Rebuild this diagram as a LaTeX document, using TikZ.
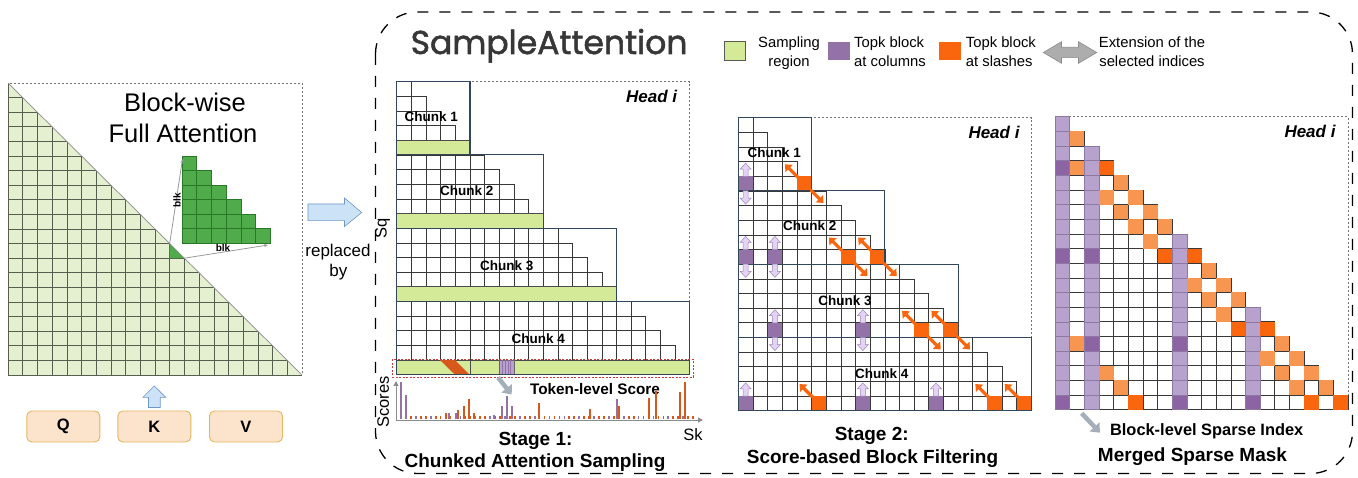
\documentclass[tikz,border=0pt]{standalone}
\usepackage{fontspec}
\setmainfont{Liberation Sans}
\newfontfamily\titlefont[FakeBold=1.6]{Poppins}
\usetikzlibrary{arrows.meta}

\definecolor{sampgreen}{RGB}{212,234,152}
\definecolor{fullgreen}{RGB}{228,240,208}
\definecolor{fullgridc}{RGB}{85,95,80}
\definecolor{blkgreen}{RGB}{80,172,74}
\definecolor{blkgreendraw}{RGB}{40,120,40}
\definecolor{colpurple}{RGB}{147,114,168}
\definecolor{lightpurple}{RGB}{182,162,204}
\definecolor{lightpurpledraw}{RGB}{140,120,160}
\definecolor{darkpurple}{RGB}{140,100,164}
\definecolor{slashorange}{RGB}{250,102,14}
\definecolor{stripeorange}{RGB}{215,88,28}
\definecolor{lightorange}{RGB}{246,150,80}
\definecolor{chunkblue}{RGB}{50,70,92}
\definecolor{qkvfill}{RGB}{252,228,204}
\definecolor{qkvdraw}{RGB}{228,182,96}
\definecolor{arrowblue}{RGB}{204,226,246}
\definecolor{arrowbluedraw}{RGB}{110,150,200}
\definecolor{titlegray}{RGB}{55,55,55}
\definecolor{upfill}{RGB}{226,212,242}
\definecolor{updraw}{RGB}{160,130,190}
\definecolor{fatgray}{RGB}{165,175,185}
\definecolor{axisgray}{RGB}{140,140,140}
\definecolor{tokred}{RGB}{200,60,60}

\begin{document}
\begin{tikzpicture}[x=1pt,y=-1pt,
  cell/.style={fill=white, draw=black!78, line width=0.6pt},
  sampbar/.style={fill=sampgreen, draw=black!70, line width=0.7pt},
  chunkbox/.style={draw=chunkblue, line width=1.1pt},
  headbox/.style={draw=black!55, line width=0.6pt, dash pattern=on 2pt off 2pt},
  fullgrid/.style={draw=fullgridc, line width=0.6pt},
  chunklbl/.style={font=\fontsize{13.5}{15}\selectfont\bfseries, anchor=base, inner sep=0pt},
  headlbl/.style={font=\fontsize{17}{20}\selectfont\bfseries\itshape, anchor=base, inner sep=0pt},
  stagelbl/.style={font=\fontsize{19}{22}\selectfont\bfseries, anchor=base, inner sep=0pt},
  legendlbl/.style={font=\fontsize{14.8}{20}\selectfont, anchor=base, inner sep=0pt},
  plainlbl/.style={font=\fontsize{16.5}{20}\selectfont, anchor=base, inner sep=0pt},
  qkv/.style={fill=qkvfill, draw=qkvdraw, line width=0.9pt, rounded corners=5pt,
    minimum width=73pt, minimum height=31pt, inner sep=0pt, font=\fontsize{16.5}{18}\selectfont\bfseries},
  oarrow/.style={draw=slashorange, line width=3.2pt, -{Triangle[length=6pt,width=10pt]}},
  parrow/.style={fill=upfill, draw=updraw, line width=0.5pt},
  fatarrow/.style={draw=fatgray, line width=4.5pt, -{Triangle[length=8pt,width=13pt]}},
  thinarrow/.style={draw=black!40, line width=0.8pt, -{Stealth[length=4pt,width=3pt]}},
  bar/.style={draw=#1, line width=1.7pt},
]
\useasboundingbox (0,0) rectangle (1358,478);
\fill[white] (0,0) rectangle (1358,478);

\def\sz{14.65}

% ================= Left panel =================
\begin{scope}
  \clip (8,83) -- (8,375) -- (302,375) -- cycle;
  \fill[fullgreen] (8,83) rectangle (302,375);
  \foreach \i in {1,...,19}{
    \draw[fullgrid] ({8+\i*14.7},83) -- ({8+\i*14.7},375);
    \draw[fullgrid] (8,{83+\i*14.6}) -- (302,{83+\i*14.6});
  }
  \fill[blkgreen] ({8+11*14.7},{83+11*14.6}) -- ({8+11*14.7},{83+12*14.6}) -- ({8+12*14.7},{83+12*14.6}) -- cycle;
\end{scope}
\draw[headbox] (8,83) rectangle (302,375);
\draw[fullgrid] (8,83) -- (8,375) -- (302,375);
\draw[draw=black!45, line width=0.7pt] (8,83) -- (302,375);
\coordinate (smallA) at ({8+11*14.7},{83+11*14.6});
\coordinate (smallB) at ({8+12*14.7},{83+12*14.6});

% zoomed staircase
\foreach \i in {0,...,5}{
  \foreach \j in {0,...,\i}{
    \draw[fill=blkgreen, draw=blkgreendraw, line width=0.6pt] ({182+\j*14.7},{156+\i*14.55}) rectangle ++(14.7,14.55);
  }
}
\coordinate (stairTop) at (182.5,159);
\coordinate (stairRight) at (268,245);
\draw[thinarrow] (smallA) -- (stairTop);
\draw[thinarrow] (smallB) -- (stairRight);
\node[font=\fontsize{10}{10}\selectfont\bfseries, rotate=90, inner sep=0pt] (blkv) at (177,200) {blk};
\node[font=\fontsize{10}{10}\selectfont\bfseries, inner sep=0pt] (blkh) at (223,248) {blk};

\node[font=\fontsize{25.5}{30}\selectfont, anchor=base, inner sep=0pt] (bw1) at (185,111.7) {Block-wise};
\node[font=\fontsize{25.5}{30}\selectfont, anchor=base, inner sep=0pt] (bw2) at (183,142.7) {Full Attention};

% QKV
\node[qkv] (q) at (63.3,426.5) {Q};
\node[qkv] (k) at (154.3,426.5) {K};
\node[qkv] (v) at (246,426.5) {V};
\draw[fill=arrowblue, draw=arrowbluedraw, line width=0.6pt]
  (154.3,386) -- (165.7,397.3) -- (160.2,397.3) -- (160.2,407.5) -- (148.5,407.5) -- (148.5,397.3) -- (143,397.3) -- cycle;

% replaced by
\draw[fill=arrowblue, draw=arrowbluedraw, line width=0.6pt]
  (308,204) -- (344.5,204) -- (344.5,198) -- (361.7,212.5) -- (344.5,226.5) -- (344.5,220.7) -- (308,220.7) -- cycle;
\node[font=\fontsize{17}{20}\selectfont, anchor=base, inner sep=0pt] (rep1) at (338,256.7) {replaced};
\node[font=\fontsize{17}{20}\selectfont, anchor=base, inner sep=0pt] (rep2) at (338.3,276.5) {by};

% ================= big dashed frame =================
\draw[black, line width=1.3pt, dash pattern=on 11pt off 11pt, rounded corners=42pt] (375.5,12) rectangle (1352.5,473.5);

\node[font=\titlefont\fontsize{33}{38}\selectfont, text=titlegray, anchor=base west, inner sep=0pt] (title) at (410.5,54) {SampleAttention};

% ================= Legend =================
\draw[fill=sampgreen, draw=black!65, line width=0.7pt] (724,41.7) rectangle (745.7,60);
\fill[colpurple] (827.7,41.7) rectangle (850,60);
\fill[slashorange] (939,41.7) rectangle (961,60);
\draw[fill=black!32, draw=black!45, line width=0.6pt]
  (1043.3,52.5) -- (1061.5,41.7) -- (1061.5,47.3) -- (1078.5,47.3) -- (1078.5,41.7) -- (1096.7,52.5)
  -- (1078.5,63.3) -- (1078.5,57.7) -- (1061.5,57.7) -- (1061.5,63.3) -- cycle;
\node[legendlbl] (lg1a) at (789,48) {Sampling};
\node[legendlbl] (lg1b) at (789,67) {region};
\node[legendlbl, anchor=base west] (lg2a) at (854,48) {Topk block};
\node[legendlbl, anchor=base west] (lg2b) at (854,67) {at columns};
\node[legendlbl, anchor=base west] (lg3a) at (965.7,48) {Topk block};
\node[legendlbl, anchor=base west] (lg3b) at (965.7,67) {at slashes};
\node[legendlbl] (lg4a) at (1152,48) {Extension of the};
\node[legendlbl] (lg4b) at (1152,67) {selected indices};

% ================= Stage 1 =================
\def\Xa{396.7}\def\Ya{81.7}
\draw[headbox] (\Xa,\Ya) rectangle ({\Xa+20*\sz},{\Ya+15*\sz});
\foreach \r in {0,...,19}{
  \pgfmathtruncatemacro\m{mod(\r,5)}
  \ifnum\m=4\relax
    \draw[sampbar] (\Xa,{\Ya+\r*\sz}) rectangle ({\Xa+(\r+1)*\sz},{\Ya+(\r+1)*\sz});
  \else
    \foreach \c in {0,...,\r}{\draw[cell] ({\Xa+\c*\sz},{\Ya+\r*\sz}) rectangle ++(\sz,\sz);}
  \fi
}
% token-level details on last sampling bar
\draw[black!70, line width=0.7pt] ({\Xa+5*\sz},{\Ya+19*\sz}) -- ({\Xa+5*\sz},{\Ya+20*\sz});
\fill[stripeorange] (440,{\Ya+19*\sz}) -- (455,{\Ya+19*\sz}) -- (469.5,{\Ya+20*\sz}) -- (455,{\Ya+20*\sz}) -- cycle;
\draw[fill=lightpurple, draw=black!60, line width=0.6pt] ({\Xa+7*\sz},{\Ya+19*\sz}) rectangle ++(\sz,\sz);
\foreach \i in {1,...,4}{\draw[colpurple, line width=0.8pt] ({\Xa+7*\sz+\i*2.9},{\Ya+19*\sz}) -- ++(0,\sz);}
\foreach \k in {0,...,3}{
  \draw[chunkbox] (\Xa,{\Ya+5*\k*\sz}) rectangle ({\Xa+(5*\k+5)*\sz},{\Ya+(5*\k+5)*\sz});
}
\draw[tokred, line width=0.6pt, dash pattern=on 2pt off 1.5pt] (392.3,359.5) rectangle (693.5,377);
\node[chunklbl] (c1a) at (431.2,121.7) {Chunk 1};
\node[chunklbl] (c2a) at (466.7,195.7) {Chunk 2};
\node[chunklbl] (c3a) at (506.7,270.7) {Chunk 3};
\node[chunklbl] (c4a) at (538.3,343.3) {Chunk 4};
\node[headlbl] (h1) at (651.7,102.7) {Head i};
\node[plainlbl, rotate=90, anchor=center] (sq) at (382.5,228) {Sq};

\coordinate (tokA) at (498,377.5);
\coordinate (tokB) at (511.7,394.5);
\draw[fatarrow] (tokA) -- (tokB);
\node[font=\fontsize{15.3}{18}\selectfont\bfseries, anchor=base, inner sep=0pt] (tok) at (595,394.3) {Token-level Score};

% score chart
\coordinate (orig) at (396,420);
\coordinate (xend) at (703,420);
\coordinate (yend) at (396,381);
\foreach \i in {0,...,59}{
  \pgfmathtruncatemacro\mm{mod(\i,3)}
  \ifnum\mm=0\relax
    \draw[bar=colpurple] ({401+\i*4.95},419.3) -- ++(0,-3);
  \else
    \draw[bar=stripeorange] ({401+\i*4.95},419.3) -- ++(0,-3);
  \fi
}
\foreach \x/\t/\col in {400.7/381.7/colpurple, 405.7/395/colpurple, 445.7/413.3/stripeorange,
  449/413.3/colpurple, 455.7/413.3/colpurple, 458.3/410/stripeorange, 463.7/406/stripeorange,
  469/399.3/stripeorange, 474/413.3/stripeorange, 494.3/415/colpurple, 501.7/406/colpurple,
  506.7/396/colpurple, 512.3/406/colpurple, 539.3/403.3/stripeorange, 590/409.3/stripeorange,
  617.3/399.3/colpurple, 619.3/406/stripeorange, 648.7/398.3/stripeorange, 656.3/391/stripeorange,
  680/391.7/stripeorange, 685/381.7/stripeorange}{
  \draw[bar=\col] (\x,419.3) -- (\x,\t);
}
\draw[axisgray, line width=1pt, -{Triangle[length=5pt,width=5pt]}] (orig) -- (xend);
\draw[axisgray, line width=1pt, -{Triangle[length=5pt,width=5pt]}] (orig) -- (yend);
\node[plainlbl, rotate=90, anchor=center] (scores) at (383.3,402) {Scores};
\node[plainlbl] (sk) at (693,440) {Sk};
\node[stagelbl] (s1a) at (535.5,445) {Stage 1:};
\node[stagelbl] (s1b) at (535,467.3) {Chunked Attention Sampling};

% ================= Stage 2 =================
\def\Xb{738.3}\def\Yb{117.7}
\draw[headbox] (\Xb,\Yb) rectangle ({\Xb+20*\sz},{\Yb+15*\sz});
\foreach \r in {0,...,19}{
  \foreach \c in {0,...,\r}{\draw[cell] ({\Xb+\c*\sz},{\Yb+\r*\sz}) rectangle ++(\sz,\sz);}
}
\foreach \r/\c in {4/0,9/0,9/2,14/2,14/8,19/0,19/8,19/13}{
  \fill[colpurple] ({\Xb+\c*\sz},{\Yb+\r*\sz}) rectangle ++(\sz,\sz);
}
\foreach \r/\c in {4/4,9/7,9/9,14/12,14/14,19/5,19/17,19/19}{
  \fill[slashorange] ({\Xb+\c*\sz},{\Yb+\r*\sz}) rectangle ++(\sz,\sz);
}
\foreach \k in {0,...,3}{
  \draw[chunkbox] (\Xb,{\Yb+5*\k*\sz}) rectangle ({\Xb+(5*\k+5)*\sz},{\Yb+(5*\k+5)*\sz});
}
% purple vertical arrows
\foreach \r/\c in {4/0,9/0,9/2,14/2,14/8,19/0,19/8,19/13}{
  \pgfmathsetmacro\pcx{\Xb+(\c+0.5)*\sz}
  \pgfmathsetmacro\pyt{\Yb+\r*\sz}
  \pgfmathsetmacro\pua{\pyt-\sz+1.5}
  \pgfmathsetmacro\pub{\pua+6}
  \draw[parrow] (\pcx,\pua) -- ({\pcx+5.5},\pub) -- ({\pcx+2.5},\pub) -- ({\pcx+2.5},\pyt)
    -- ({\pcx-2.5},\pyt) -- ({\pcx-2.5},\pub) -- ({\pcx-5.5},\pub) -- cycle;
  \ifnum\r<19
    \pgfmathsetmacro\pyd{\pyt+\sz}
    \pgfmathsetmacro\pda{\pyt+2*\sz-1.5}
    \pgfmathsetmacro\pdb{\pda-6}
    \draw[parrow] (\pcx,\pda) -- ({\pcx+5.5},\pdb) -- ({\pcx+2.5},\pdb) -- ({\pcx+2.5},\pyd)
      -- ({\pcx-2.5},\pyd) -- ({\pcx-2.5},\pdb) -- ({\pcx-5.5},\pdb) -- cycle;
  \fi
}
% orange diagonal arrows
\foreach \r/\c in {4/4,9/7,9/9,14/12,14/14,19/5,19/17,19/19}{
  \pgfmathsetmacro\oxl{\Xb+\c*\sz}
  \pgfmathsetmacro\oyt{\Yb+\r*\sz}
  \draw[oarrow] ({\oxl+1},{\oyt+1}) -- ++(-13,-13);
  \ifnum\r<19
    \draw[oarrow] ({\oxl+\sz-1},{\oyt+\sz-1}) -- ++(13,13);
  \fi
}
\node[chunklbl] (c1b) at (774.2,157.7) {Chunk 1};
\node[chunklbl] (c2b) at (809.7,231) {Chunk 2};
\node[chunklbl] (c3b) at (845,306) {Chunk 3};
\node[chunklbl] (c4b) at (881.7,379) {Chunk 4};
\node[headlbl] (h2) at (994,138.3) {Head i};
\node[stagelbl] (s2a) at (871.7,440) {Stage 2:};
\node[stagelbl] (s2b) at (872.5,463.3) {Score-based Block Filtering};

% ================= Merged mask =================
\def\Xc{1055}\def\Yc{116.7}
\draw[headbox] (\Xc,\Yc) rectangle ({\Xc+20*\sz},{\Yc+20*\sz});
\foreach \r in {0,...,19}{
  \foreach \c in {0,...,\r}{\draw[cell] ({\Xc+\c*\sz},{\Yc+\r*\sz}) rectangle ++(\sz,\sz);}
}
\foreach \c/\st in {0/0,2/2,8/8,13/13}{
  \foreach \r in {\st,...,19}{
    \draw[fill=lightpurple, draw=lightpurpledraw, line width=0.5pt] ({\Xc+\c*\sz},{\Yc+\r*\sz}) rectangle ++(\sz,\sz);
  }
}
\foreach \r/\c in {3/0,9/0,9/2,15/2,15/8,19/0,19/8,19/13}{
  \draw[fill=darkpurple, draw=lightpurpledraw, line width=0.5pt] ({\Xc+\c*\sz},{\Yc+\r*\sz}) rectangle ++(\sz,\sz);
}
\foreach \r/\c in {1/1,3/1,4/4,5/3,5/5,6/4,6/6,7/5,7/7,8/6,10/10,11/9,11/11,12/10,12/12,13/11,
  15/1,15/15,16/14,16/16,17/3,17/15,17/17,18/4,18/16,18/18}{
  \fill[lightorange] ({\Xc+\c*\sz},{\Yc+\r*\sz}) rectangle ++(\sz,\sz);
}
\foreach \r/\c in {3/3,9/7,9/9,14/12,14/14,19/5,19/17,19/19}{
  \fill[slashorange] ({\Xc+\c*\sz},{\Yc+\r*\sz}) rectangle ++(\sz,\sz);
}
\node[headlbl] (h3) at (1310,137.3) {Head i};
\coordinate (bsA) at (1081.7,413.3);
\coordinate (bsB) at (1100,432.7);
\draw[fatarrow] (bsA) -- (bsB);
\node[font=\fontsize{16.4}{19}\selectfont\bfseries, anchor=base, inner sep=0pt] (bsi) at (1206.7,435.7) {Block-level Sparse Index};
\node[stagelbl] (msm) at (1192.5,461) {Merged Sparse Mask};
\end{tikzpicture}
\end{document}
